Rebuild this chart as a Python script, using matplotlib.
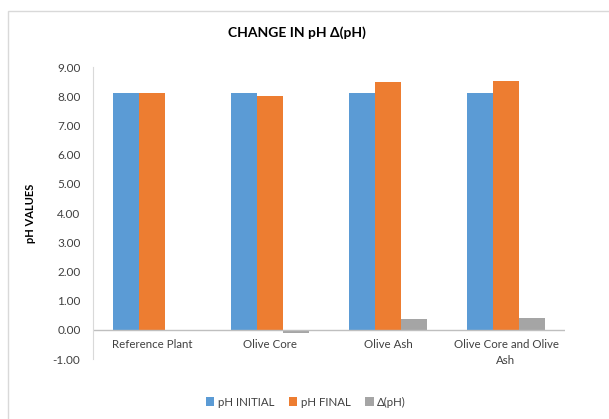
import numpy as np
import matplotlib.pyplot as plt
from matplotlib.patches import Rectangle

categories = ["Reference Plant", "Olive Core", "Olive Ash", "Olive Core and Olive\nAsh"]
ph_initial = [8.10, 8.10, 8.10, 8.10]
ph_final = [8.10, 8.00, 8.47, 8.52]
delta_ph = [0.00, -0.10, 0.37, 0.42]
yticks = np.arange(-1, 10, 1)

plt.rcParams['font.family'] = ['Lato', 'DejaVu Sans']

fig = plt.figure(figsize=(6.09, 4.19), dpi=100)
W, H = 609, 419
ax = fig.add_axes([93 / W, 1 - 359 / H, (565 - 93) / W, (359 - 67) / H])

# chart frame (clipped by image edge on the right/bottom)
fig.patches.append(Rectangle((8 / W, -0.1), 1.2, 1 - 11 / H + 0.1, transform=fig.transFigure,
                             fill=False, edgecolor='#D9D9D9', linewidth=1))

x = np.arange(len(categories))
w = 0.22
ax.bar(x - w, ph_initial, w, color='#5B9BD5', label='pH INITIAL')
ax.bar(x, ph_final, w, color='#ED7D31', label='pH FINAL')
ax.bar(x + w, delta_ph, w, color='#A5A5A5', label='Δ(pH)')

ax.set_xlim(-0.5, len(categories) - 0.5)
ax.set_ylim(-1, 9)
ax.set_yticks(yticks)
ax.set_yticklabels([f"{v:.2f}" for v in yticks], fontsize=8.5, color='#404040')
ax.axhline(0, color='#BFBFBF', linewidth=1)
ax.set_xticks([])
# category labels sit just below the zero line, as in the original
for i, c in enumerate(categories):
    ax.text(i, -0.32, c, ha='center', va='top', fontsize=8.3, color='#404040',
            linespacing=1.55)
ax.tick_params(axis='both', length=0)
ax.tick_params(axis='y', pad=9)

for s in ['top', 'right', 'bottom']:
    ax.spines[s].set_visible(False)
ax.spines['left'].set_color('#D9D9D9')

ax.set_ylabel('pH VALUES', fontsize=8, fontweight='bold', color='black', labelpad=12)
fig.text(297 / W, 1 - 33 / H, 'CHANGE IN pH Δ(pH)', ha='center', va='center',
         fontsize=10, fontweight='bold')

ax.legend(loc='center', bbox_to_anchor=(306 / W, 1 - 402 / H), bbox_transform=fig.transFigure,
          ncol=3, frameon=False, fontsize=8.3, handlelength=0.7, handleheight=0.7,
          handletextpad=0.3, columnspacing=1.3, labelcolor='#404040')

fig.savefig("out.png", dpi=100)
